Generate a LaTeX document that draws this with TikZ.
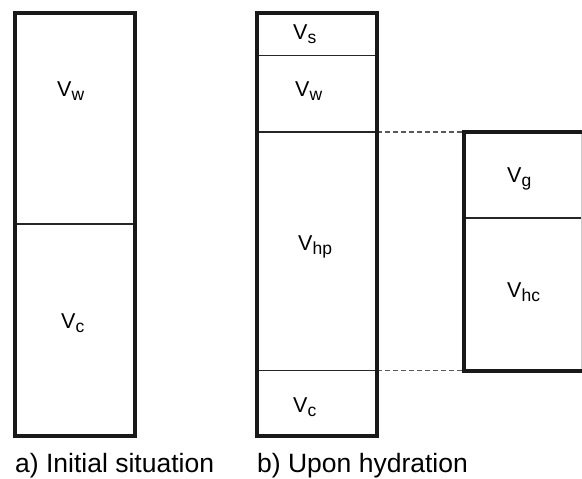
\documentclass[tikz,border=0pt]{standalone}
\usepackage{fontspec}
\setmainfont{Liberation Sans}
\newcommand{\lowsub}[1]{\raisebox{-4.5pt}{\fontsize{17.5}{20}\selectfont #1}}
\begin{document}
\begin{tikzpicture}[x=1pt,y=-1pt,
  heavy/.style={line width=4pt, black!90},
  divider/.style={line width=1.3pt, black!85},
  guide/.style={line width=1.3pt, black!65, dash pattern=on 5pt off 3pt},
  lbl/.style={font=\fontsize{21.5}{26}\selectfont, anchor=base west, inner sep=0pt},
  captext/.style={font=\fontsize{26.5}{31}\selectfont, anchor=base west, inner sep=0pt}]
\useasboundingbox (0,0) rectangle (582,479);
\clip (0,0) rectangle (582,479);
% coordinates
\coordinate (aTL) at (15,13);
\coordinate (aBR) at (135,435.5);
\coordinate (bTL) at (257,13);
\coordinate (bBR) at (376.5,435.5);
\coordinate (cTL) at (464,132);
\coordinate (cBR) at (592,370.7);
\coordinate (bR1) at (376.5,132);
\coordinate (bR2) at (376.5,370.7);
\coordinate (cL1) at (464,132);
\coordinate (cL2) at (464,370.7);
% dividers
\draw[divider] (15,224) -- (135,224);
\draw[divider] (257,55.5) -- (376.5,55.5);
\draw[divider] (257,132) -- (380,132);
\draw[divider] (257,370.7) -- (380,370.7);
\draw[divider] (464,218) -- (582,218);
% dashed guides
\draw[guide] (bR1) -- (cL1);
\draw[guide] (bR2) -- (cL2);
% faint right edge
\draw[line width=1pt, black!20] (581,132) -- (581,370.7);
% boxes
\draw[heavy] (aTL) rectangle (aBR);
\draw[heavy] (bTL) rectangle (bBR);
\draw[heavy] (cTL) rectangle (cBR);
% labels
\node[lbl] (lw1) at (57,96) {V\lowsub{w}};
\node[lbl] (lc1) at (61,328) {V\lowsub{c}};
\node[lbl] (ls2) at (293,39) {V\lowsub{s}};
\node[lbl] (lw2) at (295,96) {V\lowsub{w}};
\node[lbl] (lhp) at (298,250) {V\lowsub{hp}};
\node[lbl] (lc2) at (293,412) {V\lowsub{c}};
\node[lbl] (lg) at (507,182) {V\lowsub{g}};
\node[lbl] (lhc) at (507,297) {V\lowsub{hc}};
\node[captext] (capa) at (15,472.5) {a) Initial situation};
\node[captext] (capb) at (257,472.5) {b) Upon hydration};
\end{tikzpicture}
\end{document}
